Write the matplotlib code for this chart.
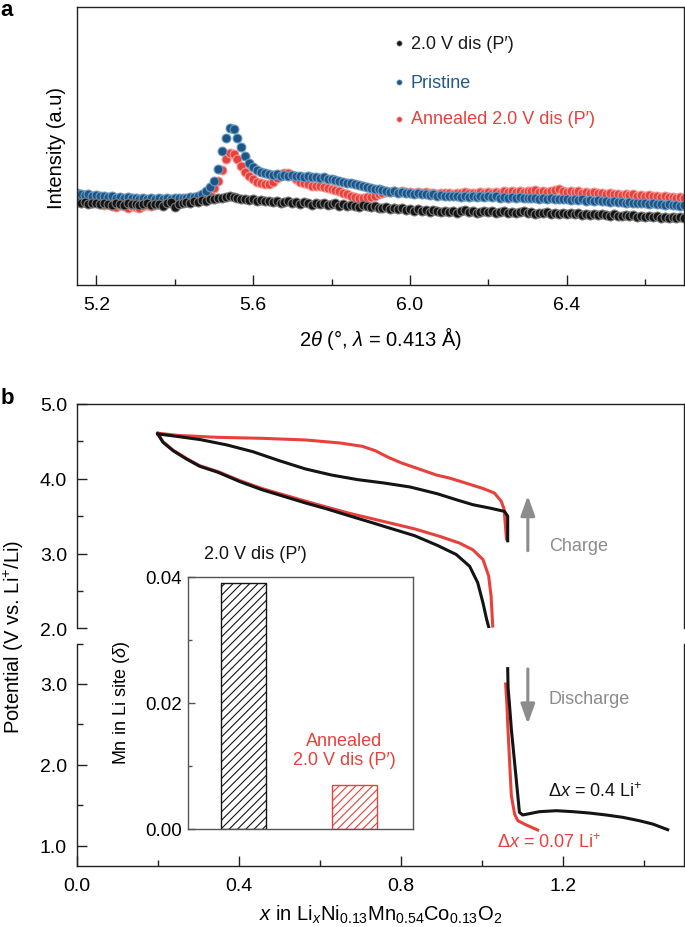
import numpy as np
import matplotlib
matplotlib.use('Agg')
import matplotlib.pyplot as plt
from matplotlib.ticker import FixedLocator, NullLocator

plt.rcParams['font.family'] = ['Liberation Sans', 'DejaVu Sans']
plt.rcParams['mathtext.fontset'] = 'custom'
plt.rcParams['mathtext.rm'] = 'Liberation Sans'
plt.rcParams['mathtext.it'] = 'Liberation Sans:italic'
plt.rcParams['mathtext.bf'] = 'Liberation Sans:bold'
plt.rcParams['hatch.linewidth'] = 0.8

# ---------------- Panel a data (XRD, 2theta grid start 5.15, step 0.01) ----------------
tt_start, tt_step = 5.15, 0.01
xrd_black = [0.300, 0.296, 0.299, 0.293, 0.297, 0.294, 0.290, 0.296, 0.292, 0.289,
             0.295, 0.291, 0.288, 0.294, 0.290, 0.293, 0.287, 0.292, 0.295, 0.289,
             0.293, 0.290, 0.286, 0.294, 0.298, 0.282, 0.293, 0.297, 0.300, 0.295,
             0.302, 0.299, 0.305, 0.303, 0.308, 0.310, 0.312, 0.315, 0.318, 0.320,
             0.317, 0.314, 0.309, 0.311, 0.306, 0.308, 0.303, 0.306, 0.301, 0.304,
             0.299, 0.302, 0.297, 0.300, 0.303, 0.295, 0.298, 0.293, 0.299, 0.294,
             0.289, 0.296, 0.292, 0.295, 0.288, 0.291, 0.294, 0.286, 0.290, 0.284,
             0.289, 0.286, 0.282, 0.288, 0.284, 0.281, 0.285, 0.279, 0.276, 0.281,
             0.274, 0.278, 0.272, 0.276, 0.270, 0.273, 0.268, 0.272, 0.266, 0.270,
             0.264, 0.269, 0.266, 0.262, 0.268, 0.264, 0.267, 0.261, 0.265, 0.269,
             0.263, 0.266, 0.260, 0.264, 0.268, 0.262, 0.265, 0.259, 0.263, 0.266,
             0.260, 0.263, 0.258, 0.262, 0.265, 0.259, 0.262, 0.256, 0.261, 0.258,
             0.262, 0.255, 0.259, 0.256, 0.260, 0.254, 0.258, 0.255, 0.259, 0.252,
             0.256, 0.253, 0.257, 0.251, 0.255, 0.252, 0.249, 0.254, 0.250, 0.247,
             0.252, 0.248, 0.251, 0.246, 0.249, 0.245, 0.248, 0.244, 0.247, 0.243,
             0.246, 0.242, 0.245, 0.241, 0.244, 0.242]
xrd_pristine = [0.332, 0.328, 0.325, 0.327, 0.322, 0.324, 0.319, 0.322, 0.318, 0.320,
                0.315, 0.318, 0.313, 0.316, 0.312, 0.314, 0.311, 0.314, 0.310, 0.313,
                0.309, 0.312, 0.310, 0.313, 0.311, 0.314, 0.312, 0.315, 0.313, 0.316,
                0.318, 0.322, 0.328, 0.338, 0.352, 0.375, 0.418, 0.482, 0.528, 0.566,
                0.562, 0.530, 0.496, 0.465, 0.440, 0.425, 0.414, 0.408, 0.403, 0.400,
                0.397, 0.399, 0.394, 0.397, 0.393, 0.396, 0.392, 0.394, 0.390, 0.393,
                0.388, 0.390, 0.386, 0.388, 0.383, 0.381, 0.378, 0.375, 0.372, 0.369,
                0.366, 0.362, 0.360, 0.356, 0.353, 0.350, 0.347, 0.344, 0.341, 0.339,
                0.336, 0.337, 0.333, 0.335, 0.331, 0.330, 0.328, 0.330, 0.326, 0.328,
                0.324, 0.326, 0.322, 0.324, 0.320, 0.322, 0.319, 0.321, 0.318, 0.321,
                0.318, 0.320, 0.317, 0.320, 0.317, 0.319, 0.316, 0.319, 0.315, 0.318,
                0.315, 0.317, 0.314, 0.316, 0.313, 0.315, 0.312, 0.314, 0.311, 0.313,
                0.310, 0.312, 0.309, 0.311, 0.308, 0.310, 0.307, 0.309, 0.306, 0.308,
                0.304, 0.306, 0.303, 0.305, 0.301, 0.303, 0.300, 0.301, 0.298, 0.300,
                0.297, 0.298, 0.295, 0.297, 0.294, 0.295, 0.292, 0.294, 0.290, 0.292,
                0.289, 0.290, 0.287, 0.289, 0.285, 0.287]
xrd_annealed = [0.312, 0.305, 0.300, 0.303, 0.296, 0.299, 0.292, 0.288, 0.293, 0.285,
                0.282, 0.288, 0.283, 0.279, 0.285, 0.281, 0.278, 0.284, 0.288, 0.283,
                0.289, 0.292, 0.288, 0.294, 0.297, 0.292, 0.298, 0.302, 0.299, 0.305,
                0.308, 0.311, 0.316, 0.322, 0.332, 0.348, 0.375, 0.415, 0.452, 0.474,
                0.470, 0.452, 0.428, 0.408, 0.392, 0.380, 0.372, 0.366, 0.362, 0.365,
                0.372, 0.384, 0.398, 0.405, 0.402, 0.392, 0.380, 0.372, 0.368, 0.362,
                0.358, 0.355, 0.357, 0.352, 0.349, 0.346, 0.343, 0.338, 0.332, 0.327,
                0.322, 0.318, 0.315, 0.313, 0.316, 0.318, 0.322, 0.326, 0.331, 0.334,
                0.336, 0.338, 0.335, 0.337, 0.334, 0.336, 0.333, 0.335, 0.331, 0.334,
                0.330, 0.333, 0.329, 0.332, 0.330, 0.333, 0.329, 0.332, 0.330, 0.334,
                0.331, 0.333, 0.330, 0.334, 0.331, 0.335, 0.332, 0.336, 0.333, 0.337,
                0.334, 0.338, 0.335, 0.339, 0.336, 0.340, 0.337, 0.341, 0.336, 0.339,
                0.335, 0.338, 0.342, 0.345, 0.340, 0.336, 0.339, 0.335, 0.337, 0.333,
                0.336, 0.332, 0.334, 0.330, 0.333, 0.329, 0.331, 0.327, 0.329, 0.325,
                0.328, 0.324, 0.326, 0.322, 0.325, 0.321, 0.323, 0.319, 0.321, 0.317,
                0.320, 0.316, 0.318, 0.314, 0.316, 0.313]
xrd_labels = ['2.0 V dis (P\u2032)', 'Pristine', 'Annealed 2.0 V dis (P\u2032)']
xrd_xticks = [5.2, 5.6, 6.0, 6.4]
xrd_xticklabels = ['5.2', '5.6', '6.0', '6.4']
xrd_xminor = [5.4, 5.8, 6.2, 6.6]

# ---------------- Panel b data (voltage profiles) ----------------
blk_charge_x = [1.064, 1.064, 1.056, 1.019, 0.978, 0.937, 0.890, 0.823, 0.759, 0.694,
                0.629, 0.565, 0.500, 0.435, 0.371, 0.306, 0.250, 0.200]
blk_charge_v = [3.17, 3.50, 3.564, 3.609, 3.653, 3.720, 3.800, 3.890, 3.943, 3.988,
                4.050, 4.131, 4.242, 4.362, 4.452, 4.523, 4.565, 4.600]
red_charge_x = [1.061, 1.058, 1.055, 1.048, 1.031, 1.003, 0.962, 0.920, 0.888, 0.845,
                0.802, 0.769, 0.737, 0.705, 0.651, 0.565, 0.457, 0.349, 0.250, 0.200]
red_charge_v = [3.195, 3.40, 3.596, 3.70, 3.81, 3.87, 3.94, 4.01, 4.05, 4.131,
                4.211, 4.287, 4.376, 4.434, 4.478, 4.519, 4.541, 4.554, 4.58, 4.61]
blk_dis_x = [0.200, 0.213, 0.238, 0.271, 0.3035, 0.349, 0.403, 0.457, 0.511, 0.565,
             0.618, 0.672, 0.726, 0.780, 0.834, 0.890, 0.937, 0.970, 0.990, 1.003,
             1.012, 1.017]
blk_dis_v = [4.60, 4.488, 4.375, 4.264, 4.167, 4.086, 3.961, 3.854, 3.765, 3.676,
             3.596, 3.506, 3.418, 3.328, 3.239, 3.11, 2.987, 2.83, 2.61, 2.34,
             2.12, 2.02]
red_dis_x = [0.200, 0.213, 0.238, 0.271, 0.3035, 0.349, 0.403, 0.457, 0.511, 0.565,
             0.618, 0.672, 0.726, 0.780, 0.834, 0.896, 0.945, 0.978, 1.003, 1.017,
             1.023, 1.027]
red_dis_v = [4.61, 4.495, 4.383, 4.272, 4.176, 4.095, 3.975, 3.870, 3.785, 3.700,
             3.620, 3.540, 3.470, 3.400, 3.330, 3.23, 3.14, 3.05, 2.92, 2.70,
             2.43, 2.03]
blk_low_x = [1.064, 1.065, 1.068, 1.073, 1.081, 1.089, 1.093, 1.101, 1.1425, 1.184,
             1.225, 1.266, 1.307, 1.348, 1.389, 1.422, 1.459]
blk_low_v = [3.19, 2.95, 2.77, 2.443, 2.030, 1.617, 1.411, 1.378, 1.419, 1.431,
             1.419, 1.402, 1.378, 1.349, 1.307, 1.266, 1.196]
red_low_x = [1.059, 1.062, 1.064, 1.073, 1.081, 1.089, 1.110, 1.138]
red_low_v = [3.00, 2.75, 2.505, 1.617, 1.39, 1.307, 1.254, 1.192]

up_yticks = [2.0, 3.0, 4.0, 5.0]
up_yticklabels = ['2.0', '3.0', '4.0', '5.0']
up_yminor = [2.5, 3.5, 4.5]
lo_yticks = [1.0, 2.0, 3.0]
lo_yticklabels = ['1.0', '2.0', '3.0']
lo_yminor = [1.5, 2.5, 3.5]
b_xticks = [0.0, 0.4, 0.8, 1.2]
b_xticklabels = ['0.0', '0.4', '0.8', '1.2']
b_xminor = [0.2, 0.6, 1.0, 1.4]

# inset bar data
inset_cats = ['2.0 V dis (P\u2032)', 'Annealed\n2.0 V dis (P\u2032)']
inset_vals = [0.039, 0.007]
inset_yticks = [0.00, 0.02, 0.04]
inset_yticklabels = ['0.00', '0.02', '0.04']
inset_yminor = [0.01, 0.03]

# ---------------- styling ----------------
BLACK = '#141414'
RED = '#e8413c'
BLUE = '#1c5687'
GRAY = '#8c8c8c'
SPINE = '#222222'

W, H = 685, 928
fig = plt.figure(figsize=(W / 100, H / 100), dpi=100)


def ax_px(l, t, r, b):
    return fig.add_axes([l / W, 1 - b / H, (r - l) / W, (b - t) / H])


def style_spines(ax, color=SPINE, lw=1.0):
    for s in ax.spines.values():
        s.set_color(color)
        s.set_linewidth(lw)


# ---------------- Panel a ----------------
axa = ax_px(76.7, 8.3, 684.3, 286)
style_spines(axa)
tt = tt_start + tt_step * np.arange(len(xrd_black))
series = [(xrd_annealed, RED, '#f59a96'),
          (xrd_pristine, BLUE, '#6f9bc2'),
          (xrd_black, BLACK, '#7a7a7a')]
for vals, col, ecol in series:
    axa.plot(tt[:len(vals)], vals, 'o', ms=6.4, mfc=col, mec=ecol, mew=0.8,
             linestyle='none')
axa.set_xlim(5.15, 6.70)
axa.set_ylim(0, 1)
axa.yaxis.set_major_locator(NullLocator())
axa.xaxis.set_major_locator(FixedLocator(xrd_xticks))
axa.set_xticklabels(xrd_xticklabels)
axa.xaxis.set_minor_locator(FixedLocator(xrd_xminor))
axa.tick_params(axis='x', which='major', direction='in', length=7, width=1,
                labelsize=14, pad=8, color=SPINE)
axa.tick_params(axis='x', which='minor', direction='in', length=4, width=1,
                color=SPINE)

leg_rows = [(0.870, BLACK, '#8a8a8a', '#1a1a1a'),
            (0.730, BLUE, '#7fa6c8', '#1f5a8b'),
            (0.598, RED, '#f7a9a6', RED)]
for (yy, col, ecol, tcol), lab in zip(leg_rows, xrd_labels):
    axa.plot([0.531], [yy], 'o', transform=axa.transAxes, ms=3.8, mfc=col,
             mec=ecol, mew=0.5, clip_on=False)
    axa.text(0.5497, yy, lab, transform=axa.transAxes, color=tcol, fontsize=13,
             va='center', ha='left')

fig.text(57 / W, 1 - 148 / H, 'Intensity (a.u)', rotation=90, ha='center',
         va='center', fontsize=14.5)
fig.text(380.5 / W, 1 - 338 / H, r'2$\theta$ (°, $\lambda$ = 0.413 Å)', ha='center',
         va='center', fontsize=14.5)
fig.text(7 / W, 1 - 11 / H, 'a', fontsize=16, fontweight='bold', ha='center',
         va='center')

# ---------------- Panel b ----------------
axu = ax_px(76.7, 405, 684.3, 629.3)
axl = ax_px(76.7, 644.6, 684.3, 866.7)
for ax in (axu, axl):
    style_spines(ax)
    ax.set_xlim(0, 1.5)
axu.set_ylim(2.0, 5.0)
axl.set_ylim(0.75, 3.5)
axu.spines['bottom'].set_visible(False)
axl.spines['top'].set_visible(False)

LW = 2.2
axu.plot(red_charge_x, red_charge_v, color=RED, lw=LW, solid_joinstyle='round')
axu.plot(red_dis_x, red_dis_v, color=RED, lw=LW, solid_joinstyle='round')
axu.plot(blk_charge_x, blk_charge_v, color=BLACK, lw=LW, solid_joinstyle='round')
axu.plot(blk_dis_x, blk_dis_v, color=BLACK, lw=LW, solid_joinstyle='round')
axl.plot(red_low_x, red_low_v, color=RED, lw=LW, solid_joinstyle='round')
axl.plot(blk_low_x, blk_low_v, color=BLACK, lw=LW, solid_joinstyle='round')

axu.xaxis.set_major_locator(NullLocator())
axu.yaxis.set_major_locator(FixedLocator(up_yticks))
axu.set_yticklabels(up_yticklabels)
axu.yaxis.set_minor_locator(FixedLocator(up_yminor))
axl.yaxis.set_major_locator(FixedLocator(lo_yticks))
axl.set_yticklabels(lo_yticklabels)
axl.yaxis.set_minor_locator(FixedLocator(lo_yminor))
axl.xaxis.set_major_locator(FixedLocator(b_xticks))
axl.set_xticklabels(b_xticklabels)
axl.xaxis.set_minor_locator(FixedLocator(b_xminor))
for ax in (axu, axl):
    ax.tick_params(which='major', direction='in', length=7, width=1,
                   labelsize=14, color=SPINE)
    ax.tick_params(which='minor', direction='in', length=4, width=1, color=SPINE)
    ax.tick_params(axis='y', which='major', pad=7)
axl.tick_params(axis='x', which='major', pad=8)

arrow_kw = dict(arrowstyle='-|>,head_length=0.7,head_width=0.25', color=GRAY,
                lw=2.2, mutation_scale=17, shrinkA=0, shrinkB=0)
axu.annotate('', xy=(1.1137, 3.774), xytext=(1.1137, 3.038), arrowprops=arrow_kw)
axl.annotate('', xy=(1.1137, 2.505), xytext=(1.1137, 3.186), arrowprops=arrow_kw)
axu.text(1.238, 3.114, 'Charge', color=GRAY, fontsize=13, ha='center', va='center')
axl.text(1.265, 2.823, 'Discharge', color=GRAY, fontsize=13, ha='center',
         va='center')
axl.text(1.281, 1.679, r'$\Delta x$ = 0.4 Li$^{+}$', color=BLACK, fontsize=13,
         ha='center', va='center')
axl.text(1.167, 1.047, r'$\Delta x$ = 0.07 Li$^{+}$', color=RED, fontsize=13,
         ha='center', va='center')

fig.text(14 / W, 1 - 637 / H, r'Potential (V vs. Li$^{+}$/Li)', rotation=90,
         ha='center', va='center', fontsize=14.5)
fig.text(380.5 / W, 1 - 915 / H,
         r'$x$ in Li$_{x}$Ni$_{0.13}$Mn$_{0.54}$Co$_{0.13}$O$_{2}$',
         ha='center', va='center', fontsize=14.5)
fig.text(7 / W, 1 - 398 / H, 'b', fontsize=16, fontweight='bold', ha='center',
         va='center')

# ---------------- Inset ----------------
axi = ax_px(187.7, 577.7, 412.7, 830)
style_spines(axi, color='#555555', lw=1.0)
axi.patch.set_alpha(0)
bars = axi.bar([0, 1], inset_vals, width=0.4, color='white',
               edgecolor=[BLACK, RED], linewidth=1.0, hatch='////')
axi.set_xlim(-0.503, 1.525)
axi.set_ylim(0, 0.04)
axi.xaxis.set_major_locator(NullLocator())
axi.yaxis.set_major_locator(FixedLocator(inset_yticks))
axi.set_yticklabels(inset_yticklabels)
axi.yaxis.set_minor_locator(FixedLocator(inset_yminor))
axi.tick_params(which='major', direction='in', length=5, width=1, labelsize=13.5,
                pad=4, color='#555555')
axi.tick_params(which='minor', direction='in', length=3, width=1, color='#555555')
fig.text(121.7 / W, 1 - 703 / H, r'Mn in Li site ($\delta$)', rotation=90,
         ha='center', va='center', fontsize=13)
fig.text(255 / W, 1 - 555 / H, inset_cats[0], ha='center', va='center',
         fontsize=13, color=BLACK)
fig.text(344.3 / W, 1 - 751 / H, inset_cats[1], ha='center', va='center',
         fontsize=13, color=RED, linespacing=1.2)

fig.savefig('out.png', dpi=100)
